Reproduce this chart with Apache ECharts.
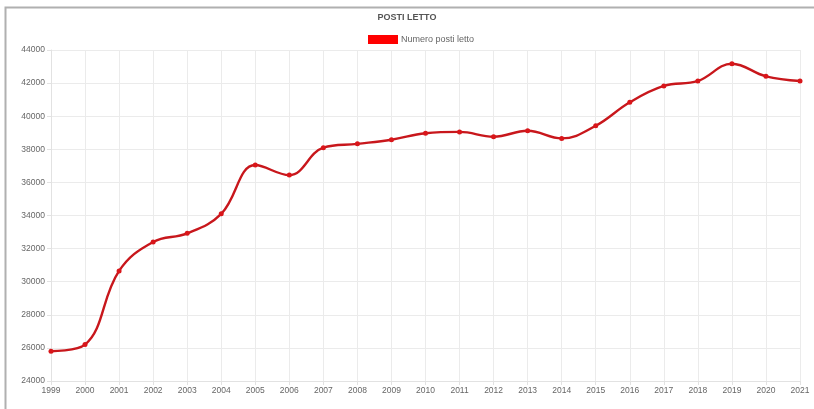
<!DOCTYPE html>
<html>
<head>
<meta charset="utf-8">
<script src="https://cdn.jsdelivr.net/npm/echarts@6/dist/echarts.min.js"></script>
<style>
  html, body { margin: 0; padding: 0; background: #fff; }
  #chart { width: 814px; height: 409px; }
</style>
</head>
<body>
<div id="chart"></div>
<script>
// Numero posti letto per anno
const years = ['1999','2000','2001','2002','2003','2004','2005','2006','2007','2008','2009',
               '2010','2011','2012','2013','2014','2015','2016','2017','2018','2019','2020','2021'];
const postiLetto = [25800, 26200, 30650, 32400, 32920, 34100, 37050, 36440, 38100, 38330, 38580,
                    38970, 39050, 38760, 39120, 38660, 39420, 40840, 41830, 42130, 43170, 42410, 42130];
const yTicks = { min: 24000, max: 44000, step: 2000 };

const chart = echarts.init(document.getElementById('chart'), null, { renderer: 'canvas' });
const fontFamily = '"Liberation Sans", Arial, sans-serif';

chart.setOption({
  animation: false,
  backgroundColor: '#ffffff',
  title: {
    text: 'POSTI LETTO',
    left: 'center',
    top: 8,
    textStyle: { fontFamily, fontSize: 9, fontWeight: 'bold', color: '#555' }
  },
  legend: {
    top: 30,
    left: 363,
    itemWidth: 30,
    itemHeight: 9,
    itemGap: 4,
    icon: 'rect',
    textStyle: { fontFamily, fontSize: 9, color: '#666', padding: [0, 0, 0, -2] },
    data: [{ name: 'Numero posti letto', itemStyle: { color: '#ff0000' } }]
  },
  grid: { left: 51, right: 14, top: 50, bottom: 28, containLabel: false },
  xAxis: {
    type: 'category',
    data: years,
    boundaryGap: false,
    axisLine: { show: true, lineStyle: { color: '#e2e2e2', width: 1 } },
    axisTick: { show: true, length: 4, lineStyle: { color: '#e2e2e2' } },
    splitLine: { show: true, lineStyle: { color: '#ebebeb', width: 1 } },
    axisLabel: { fontFamily, fontSize: 8.5, color: '#666', margin: 5 }
  },
  yAxis: {
    type: 'value',
    min: yTicks.min,
    max: yTicks.max,
    interval: yTicks.step,
    axisLine: { show: true, lineStyle: { color: '#e2e2e2', width: 1 } },
    axisTick: { show: true, length: 4, lineStyle: { color: '#e2e2e2' } },
    splitLine: { show: true, lineStyle: { color: '#ebebeb', width: 1 } },
    axisLabel: { fontFamily, fontSize: 8.5, color: '#666', margin: 6, formatter: v => String(v) }
  },
  series: [{
    name: 'Numero posti letto',
    type: 'line',
    data: postiLetto,
    smooth: 0.4,
    symbol: 'circle',
    symbolSize: 5,
    itemStyle: { color: '#d9161a' },
    lineStyle: { color: '#c8171c', width: 2.4 }
  }],
  graphic: [{
    type: 'polyline',
    shape: { points: [[5.5, 409], [5.5, 7.5], [814, 7.5]] },
    style: { stroke: '#b0b0b0', lineWidth: 2, fill: null }
  }]
});
</script>
</body>
</html>
